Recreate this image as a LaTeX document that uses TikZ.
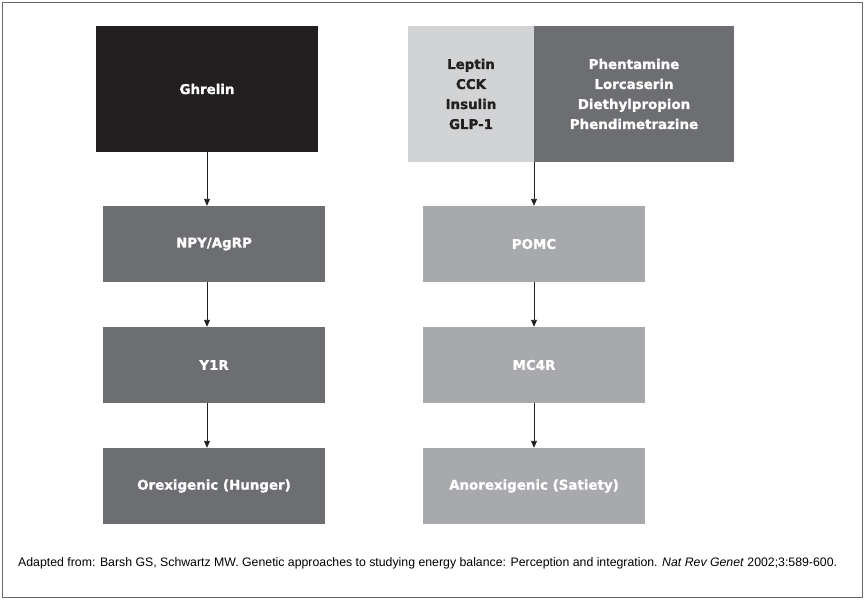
\documentclass[tikz,border=0pt]{standalone}
\usepackage{fontspec}
\setmainfont{Liberation Sans}
\newfontfamily\boxfont[BoldFeatures={FakeBold=1.2}]{DejaVu Sans}
\usetikzlibrary{arrows.meta}
\definecolor{cblack}{HTML}{231F20}
\definecolor{cdark}{HTML}{6D6E71}
\definecolor{cmid}{HTML}{A7A9AC}
\definecolor{clight}{HTML}{D1D3D4}
\tikzset{
  box/.style={draw=none, inner sep=0pt, font=\boxfont\fontsize{13.4}{20}\selectfont\bfseries, align=center},
  conn/.style={draw=cblack, line width=0.9pt, -{Triangle[length=7pt,width=6pt]}}
}
\begin{document}
\begin{tikzpicture}[x=1pt,y=-1pt]
\useasboundingbox (0,0) rectangle (865,600);
\draw[draw=gray!80!black, line width=1.4pt] (2.5,2.5) rectangle (862.5,597.5);
% left column
\node[box, fill=cblack, text=white, minimum width=222pt, minimum height=126pt] (ghrelin) at (207,89) {Ghrelin};
\node[box, fill=cdark, text=white, minimum width=222pt, minimum height=76pt] (npy) at (214,244) {NPY/AgRP};
\node[box, fill=cdark, text=white, minimum width=222pt, minimum height=76pt] (y1r) at (214,365) {Y1R};
\node[box, fill=cdark, text=white, minimum width=222pt, minimum height=76pt] (orex) at (214,486) {Orexigenic (Hunger)};
% right column
\node[box, fill=clight, text=cblack, minimum width=126pt, minimum height=136pt] (leptin) at (471,94) {Leptin\\CCK\\Insulin\\GLP-1};
\node[box, fill=cdark, text=white, minimum width=200pt, minimum height=136pt] (phen) at (634,94) {Phentamine\\Lorcaserin\\Diethylpropion\\Phendimetrazine};
\coordinate (split) at (534,162);
\node[box, fill=cmid, text=white, minimum width=222pt, minimum height=76pt] (pomc) at (534,244) {POMC};
\node[box, fill=cmid, text=white, minimum width=222pt, minimum height=76pt] (mc4r) at (534,365) {MC4R};
\node[box, fill=cmid, text=white, minimum width=222pt, minimum height=76pt] (anorex) at (534,486) {Anorexigenic (Satiety)};
% connectors
\draw[conn] (ghrelin.south) -- (ghrelin.south |- npy.north);
\draw[conn] (ghrelin.south |- npy.south) -- (ghrelin.south |- y1r.north);
\draw[conn] (ghrelin.south |- y1r.south) -- (ghrelin.south |- orex.north);
\draw[conn] (split) -- (pomc.north);
\draw[conn] (pomc) -- (mc4r);
\draw[conn] (mc4r) -- (anorex);
% caption
\node[anchor=west, inner sep=0pt, font=\fontsize{12.3}{14}\selectfont] (cap) at (18,563) {Adapted from: Barsh GS, Schwartz MW. Genetic approaches to studying energy balance: Perception and integration. \textit{Nat Rev Genet} 2002;3:589-600.};
\end{tikzpicture}
\end{document}
